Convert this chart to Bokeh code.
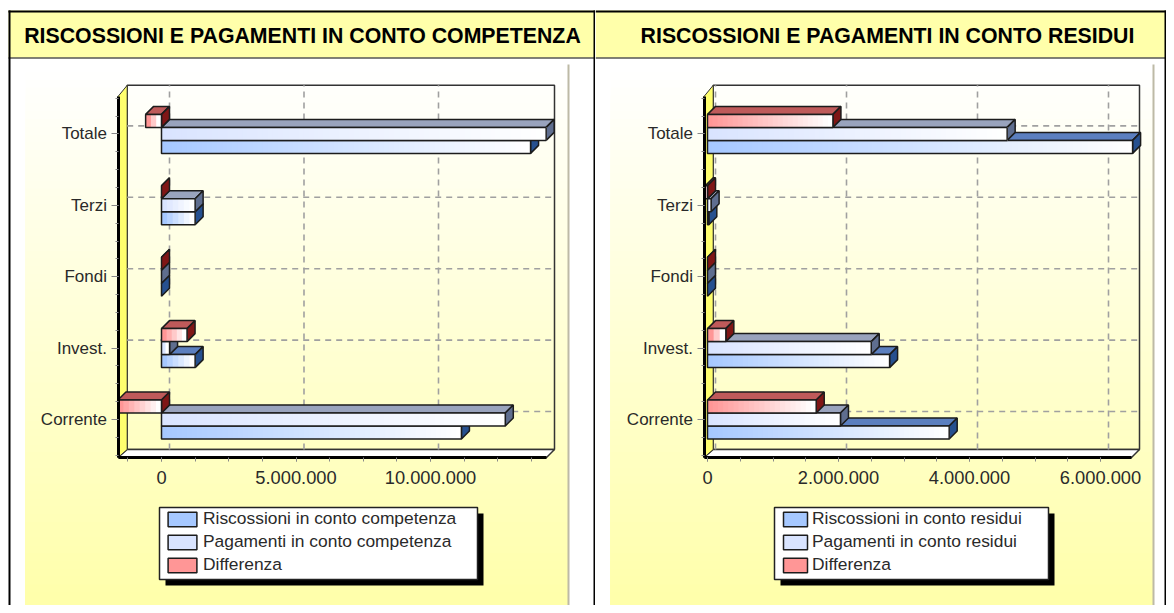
from bokeh.plotting import figure
from bokeh.layouts import row
from bokeh.models import FixedTicker, Legend, LegendItem, Label
from bokeh.embed import file_html
from bokeh.resources import INLINE

categories = ["Corrente", "Invest.", "Fondi", "Terzi", "Totale"]

titles = ["RISCOSSIONI E PAGAMENTI IN CONTO COMPETENZA", "RISCOSSIONI E PAGAMENTI IN CONTO RESIDUI"]

riscossioni_competenza = [11150000, 1250000, 0, 1250000, 13720000]
pagamenti_competenza = [12780000, 300000, 0, 1250000, 14300000]
differenza_competenza = [-1620000, 950000, 0, 0, -590000]

riscossioni_residui = [3690000, 2780000, 0, 20000, 6490000]
pagamenti_residui = [2030000, 2500000, 0, 55000, 4575000]
differenza_residui = [1660000, 280000, 0, -35000, 1915000]

legend_competenza = ["Riscossioni in conto competenza", "Pagamenti in conto competenza", "Differenza"]
legend_residui = ["Riscossioni in conto residui", "Pagamenti in conto residui", "Differenza"]

ticks_competenza = [0, 5000000, 10000000]
tick_labels_competenza = ["0", "5.000.000", "10.000.000"]
minor_competenza = [i * 1250000 for i in range(-1, 12)]
ticks_residui = [0, 2000000, 4000000, 6000000]
tick_labels_residui = ["0", "2.000.000", "4.000.000", "6.000.000"]
minor_residui = [i * 500000 for i in range(0, 13)]

FRONT = ["#a6c8ff", "#d9e4ff", "#ff9696"]
TOP = ["#5b7fbf", "#99a3bd", "#bf5a5a"]
SIDE = ["#26508f", "#5f6e8f", "#7f1616"]
EDGE = "#1c1c1c"
FONT = "Liberation Sans"
TXT = "#2a2a2a"
CAT_PX = 71.4
BAR_PX = 13.0
DEPTH = 8.0


def mix(c, t):
    r, g, b = int(c[1:3], 16), int(c[3:5], 16), int(c[5:7], 16)
    return "#%02x%02x%02x" % (round(r + (255 - r) * t), round(g + (255 - g) * t), round(b + (255 - b) * t))


def panel(fx0, fx1, zero_px, px_per_unit, ax_l, ax_r, bg_l, bg_r, title, title_cx, series, labels, ticks, tlabels,
          minor, box, sw_w, leg_x, standoff):
    fy0, fy1 = 0, 605
    cat0 = 419.0
    X = lambda px: (px - zero_px) / px_per_unit
    Y = lambda py: (cat0 - py) / CAT_PX
    p = figure(width=fx1 - fx0, height=fy1 - fy0, output_backend="svg", toolbar_location=None,
               x_range=(X(fx0), X(fx1)), y_range=(Y(fy1), Y(fy0)), min_border=0,
               min_border_left=0, min_border_right=0, min_border_top=0, min_border_bottom=0,
               background_fill_color="white", border_fill_color="white", outline_line_color=None)
    p.grid.visible = False
    first = fx0 == 0
    in_l = 8 if first else fx0
    in_r = fx1

    # chart backdrop gradient
    bg_t, bg_b = 64, 607
    ax_t, ax_b = 96, 457
    n = 70
    for_colors = [mix("#ffffaa", 1 - i / (n - 1)) for i in range(n)]
    p.quad(left=[X(bg_l)] * n, right=[X(bg_r)] * n,
           top=[Y(bg_t + (bg_b - bg_t) * i / n) for i in range(n)], bottom=[Y(bg_b)] * n,
           fill_color=for_colors, line_color=None, level="image")
    p.segment(x0=[X(bg_r)], x1=[X(bg_r)], y0=[Y(bg_t)], y1=[Y(bg_b)],
              line_color="#bdbaa6", line_width=2, level="image")

    # header and frame
    p.quad(left=[X(in_l)], right=[X(in_r)], top=[Y(10)], bottom=[Y(57)], fill_color="#ffffaa",
           line_color=None, level="image")
    p.segment(x0=[X(in_l)], x1=[X(in_r)], y0=[Y(57.5)], y1=[Y(57.5)], line_color="black", line_width=1, level="image")
    p.segment(x0=[X(in_l)], x1=[X(in_r)], y0=[Y(11)], y1=[Y(11)], line_color="black", line_width=2, level="image")
    edge_x = X(9) if first else X(1165)
    p.segment(x0=[edge_x], x1=[edge_x], y0=[Y(10)], y1=[Y(613)], line_color="black", line_width=2, level="image")
    if first:
        p.segment(x0=[X(594)], x1=[X(594)], y0=[Y(10)], y1=[Y(613)], line_color="black", line_width=2, level="image")
    p.add_layout(Label(x=X(title_cx), y=Y(35), text=title, text_font=FONT, text_font_style="bold",
                       text_font_size="21.3px", text_color="black", text_align="center", text_baseline="middle"))

    d_x = DEPTH / px_per_unit
    d_y = DEPTH / CAT_PX
    xl, xr = X(ax_l), X(ax_r)
    yb, yt = Y(ax_b), Y(ax_t)

    # 3D box: back plane, floor and wall
    p.patch([xl + d_x * 1.15, xr + d_x, xr + d_x, xl + d_x * 1.15], [yb + d_y, yb + d_y, yt + d_y * 1.4, yt + d_y * 1.4],
            fill_color=None, line_color="#333333", line_width=1.5, level="underlay")
    p.patch([xl, xl + d_x * 1.15, xr + d_x, xr], [yb, yb + d_y, yb + d_y, yb], fill_color="white", line_color="#333333",
            line_width=1.5, level="underlay")
    p.patch([xl, xl + d_x * 1.15, xl + d_x * 1.15, xl], [yb, yb + d_y, yt + d_y * 1.4, yt], fill_color="#ffff6e",
            line_color="#333333", line_width=1, level="underlay")

    # dashed grid on the back plane
    gx = [t + d_x for t in ticks]
    p.segment(x0=gx, x1=gx, y0=[yb + d_y] * len(gx), y1=[yt + d_y * 1.4] * len(gx), line_color="#a0a0a0",
              line_width=1.6, line_dash="6 5", level="underlay")
    gy = [i + d_y for i in range(len(categories))]
    p.segment(x0=[xl + d_x * 1.15] * len(gy), x1=[xr + d_x] * len(gy), y0=gy, y1=gy, line_color="#a0a0a0",
              line_width=1.6, line_dash="6 5", level="underlay")

    # bars
    h = BAR_PX / CAT_PX
    for ci in range(len(categories)):
        for si, values in enumerate(series):
            v = values[ci]
            x0, x1 = min(0, v), max(0, v)
            yc = ci + (si - 1) * h
            b, t = yc - h / 2, yc + h / 2
            p.patch([x0, x1, x1 + d_x, x0 + d_x], [t, t, t + d_y, t + d_y], fill_color=TOP[si], line_color=EDGE, line_width=1.5)
            p.patch([x1, x1 + d_x, x1 + d_x, x1], [b, b + d_y, t + d_y, t], fill_color=SIDE[si], line_color=EDGE, line_width=1.5)
            w_px = (x1 - x0) * px_per_unit
            if w_px > 0:
                k = max(2, int(w_px / 5))
                p.quad(left=[x0 + (x1 - x0) * i / k for i in range(k)], right=[x1] * k, bottom=[b] * k, top=[t] * k,
                       fill_color=[mix(FRONT[si], i / (k - 1)) for i in range(k)], line_color=None)
                p.quad(left=[x0], right=[x1], bottom=[b], top=[t], fill_color=None, line_color=EDGE, line_width=1.5)

    # axes
    xa = p.xaxis[0]
    xa.fixed_location = yb
    xa.bounds = (xl, xr)
    xa.ticker = FixedTicker(ticks=ticks, minor_ticks=minor)
    xa.major_label_overrides = dict(zip(ticks, tlabels))
    xa.axis_line_color = "black"
    xa.axis_line_width = 3
    xa.major_tick_in = 0
    xa.major_tick_out = 4
    xa.minor_tick_in = 0
    xa.minor_tick_out = 4
    xa.major_tick_line_color = "#888888"
    xa.minor_tick_line_color = "#888888"
    xa.major_label_standoff = 9
    xa.major_label_text_font = FONT
    xa.major_label_text_font_size = "18.3px"
    xa.major_label_text_color = TXT

    ya = p.yaxis[0]
    ya.fixed_location = xl
    ya.bounds = (yb, yt)
    ya.ticker = FixedTicker(ticks=list(range(5)), minor_ticks=[i / 4 - 0.5 for i in range(21)])
    ya.major_label_overrides = {i: c for i, c in enumerate(categories)}
    ya.axis_line_color = "black"
    ya.axis_line_width = 3
    ya.major_tick_in = 0
    ya.major_tick_out = 7
    ya.minor_tick_in = 0
    ya.minor_tick_out = 3
    ya.major_tick_line_color = "#888888"
    ya.minor_tick_line_color = "#888888"
    ya.major_label_standoff = 4
    ya.major_label_text_font = FONT
    ya.major_label_text_font_size = "17px"
    ya.major_label_text_color = TXT
    ya.major_label_orientation = "horizontal"

    # legend
    bl, br, bt, bb = box
    p.quad(left=[X(bl + 6)], right=[X(br + 6)], top=[Y(bt + 6)], bottom=[Y(bb + 6)], fill_color="black", line_color=None, level="guide")
    p.quad(left=[X(bl)], right=[X(br)], top=[Y(bt)], bottom=[Y(bb)], fill_color="white", line_color="#222222", line_width=1.5, level="guide")
    items = []
    off = X(fx0 - 100)
    for si in range(3):
        r = p.quad(left=[off], right=[off], top=[0], bottom=[0], fill_color=FRONT[si], line_color=EDGE, line_width=1.5)
        items.append(LegendItem(label=labels[si], renderers=[r]))
    leg = Legend(items=items, location=(leg_x - fx0, fy1 - 575), padding=0, margin=0, spacing=2, glyph_height=18,
                 glyph_width=sw_w, label_height=15, label_standoff=standoff, label_text_font=FONT,
                 label_text_font_size="17.4px", label_text_color=TXT, background_fill_alpha=0, border_line_alpha=0,
                 label_text_baseline="middle")
    p.add_layout(leg, "center")
    return p


p1 = panel(0, 595, 161.0, 26.9 / 1e6, 117.5, 546, 25, 568, titles[0], 302,
           [riscossioni_competenza, pagamenti_competenza, differenza_competenza], legend_competenza,
           ticks_competenza, tick_labels_competenza, minor_competenza, (159, 477, 507, 579), 36, 164, 3)
p2 = panel(595, 1166, 707.0, 65.5 / 1e6, 703.5, 1131, 610, 1153, titles[1], 887,
           [riscossioni_residui, pagamenti_residui, differenza_residui], legend_residui,
           ticks_residui, tick_labels_residui, minor_residui, (774, 1048, 507, 579), 30, 780, 2)

page = row(p1, p2, spacing=0)
open("out.html", "w").write(file_html(page, INLINE))
